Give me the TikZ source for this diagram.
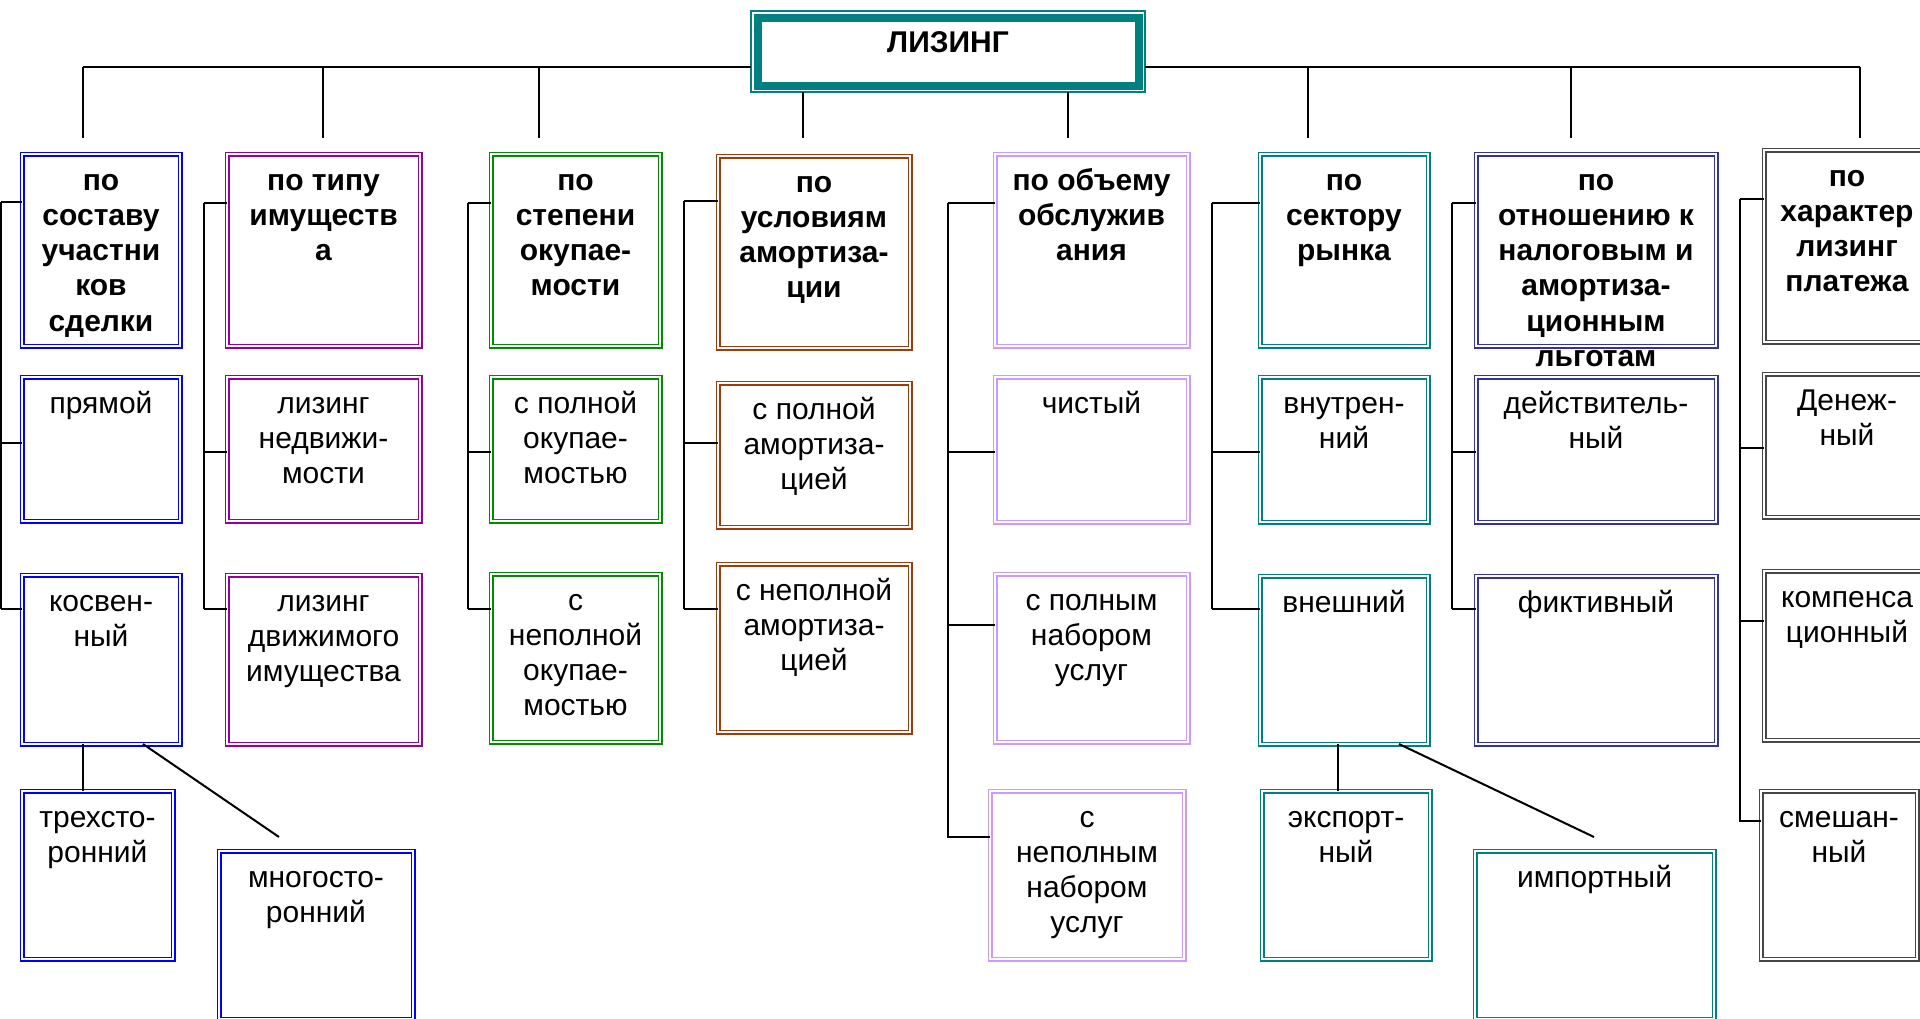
\documentclass[tikz,border=0pt]{standalone}
\usepackage{fontspec}
\setmainfont{Liberation Sans}
\usetikzlibrary{positioning}

\definecolor{clsost}{RGB}{0,0,255}
\definecolor{cltip}{RGB}{153,0,153}
\definecolor{clokup}{RGB}{0,140,0}
\definecolor{clamort}{RGB}{160,60,10}
\definecolor{clobsl}{RGB}{204,153,255}
\definecolor{clsekt}{RGB}{0,128,128}
\definecolor{clnalog}{RGB}{51,51,153}
\definecolor{clplat}{RGB}{70,70,70}
\definecolor{clroot}{RGB}{0,128,128}

% lines of a box, first baseline on top
\newcommand{\lines}[1]{\begin{tabular}[t]{@{}c@{}}#1\end{tabular}}

\begin{document}
\begin{tikzpicture}[
    x=1pt, y=-1pt,
    font=\fontsize{30}{35.3}\selectfont,
    cell/.style={draw=#1, double, double distance=2pt, line width=1.5pt, inner sep=0pt, outer sep=0pt,
      anchor=north west, text height=36pt},
    head/.style={cell=#1, font=\fontsize{30}{35.3}\selectfont\bfseries},
    leaf/.style={cell=#1},
    root/.style={draw=clroot, line width=8pt, fill=white, inner sep=0pt, outer sep=0pt,
      minimum width=381pt, text height=35pt, text depth=33pt, font=\fontsize{30}{35.3}\selectfont\bfseries},
    link/.style={line width=2pt}
]
    \useasboundingbox (0,0) rectangle (1920,1018);
    \clip (0,0) rectangle (1920,1018);

    % top
    \node[draw=clroot, line width=2pt, anchor=north west, inner sep=0pt, outer sep=0pt,
      minimum width=394pt, minimum height=81pt] (frame) at (751,11) {};
    \node[root] (root) at (frame.center) {ЛИЗИНГ};

    % first row
    \node[head=clsost, minimum width=158pt, text depth=156pt] (sost) at (22,154) {\lines{по\\составу\\участни\\ков\\сделки}};
    \node[head=cltip, minimum width=193pt, text depth=156pt] (tip) at (227,154) {\lines{по типу\\имуществ\\а}};
    \node[head=clokup, minimum width=169pt, text depth=156pt] (okup) at (491,154) {\lines{по\\степени\\окупае-\\мости}};
    \node[head=clamort, minimum width=192pt, text depth=156pt] (amort) at (718,156) {\lines{по\\условиям\\амортиза-\\ции}};
    \node[head=clobsl, minimum width=193pt, text depth=156pt] (obsl) at (995,154) {\lines{по объему\\обслужив\\ания}};
    \node[head=clsekt, minimum width=168pt, text depth=156pt] (sekt) at (1260,154) {\lines{по\\сектору\\рынка}};
    \node[head=clnalog, minimum width=240pt, text depth=156pt] (nalog) at (1476,154) {\lines{по\\отношению к\\налоговым и\\амортиза-\\ционным\\льготам}};
    \node[head=clplat, minimum width=166pt, text depth=156pt] (plat) at (1764,150) {\lines{по\\характер\\лизинг\\платежа}};

    % second row
    \node[leaf=clsost, minimum width=158pt, text depth=108pt] (sost1) at (22,377) {\lines{прямой}};
    \node[leaf=cltip, minimum width=193pt, text depth=108pt] (tip1) at (227,377) {\lines{лизинг\\недвижи-\\мости}};
    \node[leaf=clokup, minimum width=169pt, text depth=108pt] (okup1) at (491,377) {\lines{с полной\\окупае-\\мостью}};
    \node[leaf=clamort, minimum width=192pt, text depth=108pt] (amort1) at (718,383) {\lines{с полной\\амортиза-\\цией}};
    \node[leaf=clobsl, minimum width=193pt, text depth=109pt] (obsl1) at (995,377) {\lines{чистый}};
    \node[leaf=clsekt, minimum width=168pt, text depth=109pt] (sekt1) at (1260,377) {\lines{внутрен-\\ний}};
    \node[leaf=clnalog, minimum width=240pt, text depth=109pt] (nalog1) at (1476,377) {\lines{действитель-\\ный}};
    \node[leaf=clplat, minimum width=166pt, text depth=107pt] (plat1) at (1764,374) {\lines{Денеж-\\ный}};

    % third row
    \node[leaf=clsost, minimum width=158pt, text depth=133pt] (sost2) at (22,575) {\lines{косвен-\\ный}};
    \node[leaf=cltip, minimum width=193pt, text depth=133pt] (tip2) at (227,575) {\lines{лизинг\\движимого\\имущества}};
    \node[leaf=clokup, minimum width=169pt, text depth=132pt] (okup2) at (491,574) {\lines{с\\неполной\\окупае-\\мостью}};
    \node[leaf=clamort, minimum width=192pt, text depth=132pt] (amort2) at (718,564) {\lines{с неполной\\амортиза-\\цией}};
    \node[leaf=clobsl, minimum width=193pt, text depth=132pt] (obsl2) at (995,574) {\lines{с полным\\набором\\услуг}};
    \node[leaf=clsekt, minimum width=168pt, text depth=132pt] (sekt2) at (1260,576) {\lines{внешний}};
    \node[leaf=clnalog, minimum width=240pt, text depth=132pt] (nalog2) at (1476,576) {\lines{фиктивный}};
    \node[leaf=clplat, minimum width=166pt, text depth=133pt] (plat2) at (1764,571) {\lines{компенса\\ционный}};

    % fourth row
    \node[leaf=clsost, minimum width=151pt, text depth=132pt] (sost3) at (22,791) {\lines{трехсто-\\ронний}};
    \node[leaf=clsost, minimum width=194pt, text depth=132pt] (sost4) at (219,851) {\lines{многосто-\\ронний}};
    \node[leaf=clobsl, minimum width=194pt, text depth=132pt] (obsl3) at (990,791) {\lines{с\\неполным\\набором\\услуг}};
    \node[leaf=clsekt, minimum width=168pt, text depth=132pt] (sekt3) at (1262,791) {\lines{экспорт-\\ный}};
    \node[leaf=clsekt, minimum width=239pt, text depth=132pt] (sekt4) at (1475,851) {\lines{импортный}};
    \node[leaf=clplat, minimum width=156pt, text depth=132pt] (plat3) at (1761,791) {\lines{смешан-\\ный}};

    % bar and drops
    \foreach \x [count=\i] in {83,323,539,803,1068,1308,1571,1860} {
        \coordinate (b\i) at (\x,67);
        \coordinate (d\i) at (\x,138);
    }
    \draw[link] (b1) -- (b1 -| frame.west);
    \draw[link] (frame.east |- b8) -- (b8);
    \foreach \i in {1,2,3,6,7,8}
        \draw[link] (b\i) -- (d\i);
    \draw[link] (d4 |- frame.south) -- (d4);
    \draw[link] (d5 |- frame.south) -- (d5);

    % side brackets
    \foreach \xv/\ya/\yb/\yc/\bx in {1/202/443/609/sost, 204/203/452/609/tip, 468/203/452/609/okup,
        684/201/443/609/amort, 948/203/452/625/obsl, 1212/203/452/609/sekt,
        1452/203/452/609/nalog, 1740/199/448/621/plat} {
        \coordinate (a\bx) at (\xv,\ya);
        \coordinate (b\bx) at (\xv,\yb);
        \coordinate (c\bx) at (\xv,\yc);
        \draw[link] (a\bx) -- (c\bx);
        \draw[link] (a\bx) -- (a\bx -| \bx.west);
        \draw[link] (b\bx) -- (b\bx -| \bx1.west);
        \draw[link] (c\bx) -- (c\bx -| \bx2.west);
    }
    \coordinate (dobsl) at (948,837);
    \draw[link] (cobsl) -- (dobsl) -- (dobsl -| obsl3.west);
    \coordinate (dplat) at (1740,821);
    \draw[link] (cplat) -- (dplat) -- (dplat -| plat3.west);

    % lower links
    \coordinate (k1) at (83,0);
    \coordinate (k2) at (143,0);
    \coordinate (k3) at (279,837);
    \draw[link] (k1 |- sost2.south) -- (k1 |- sost3.north);
    \draw[link] (k2 |- sost2.south) -- (k3);
    \coordinate (k4) at (1338,0);
    \coordinate (k5) at (1399,0);
    \coordinate (k6) at (1594,837);
    \draw[link] (k4 |- sekt2.south) -- (k4 |- sekt3.north);
    \draw[link] (k5 |- sekt2.south) -- (k6);
\end{tikzpicture}
\end{document}
